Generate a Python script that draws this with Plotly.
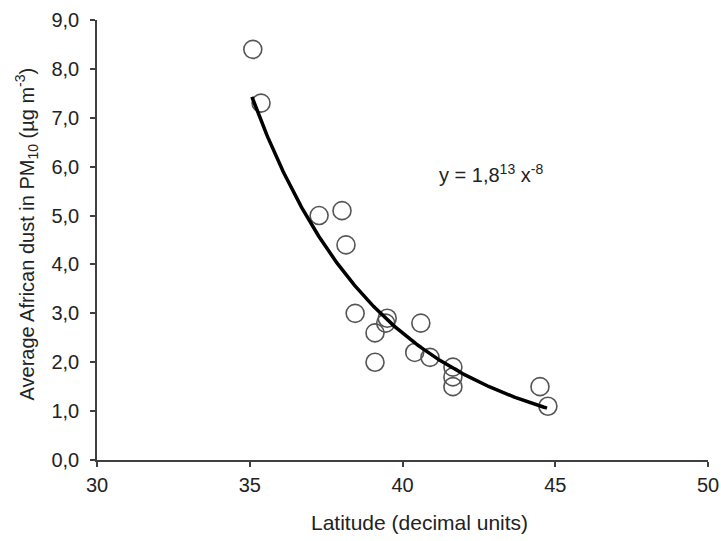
import numpy as np
import plotly.graph_objects as go

# Observed data (latitude, average African dust in PM10)
latitude = [35.1, 35.37, 37.27, 38.02, 38.15, 38.45, 39.1, 39.1, 39.45, 39.5,
            40.6, 40.4, 40.9, 41.65, 41.65, 41.65, 44.5, 44.76]
dust = [8.4, 7.3, 5.0, 5.1, 4.4, 3.0, 2.6, 2.0, 2.8, 2.9,
        2.8, 2.2, 2.1, 1.9, 1.7, 1.5, 1.5, 1.1]

# Power trendline y = a * x^b, as drawn in the chart
trend_a = 1.70e13
trend_b = -8
trend_x_start = 35.07
trend_x_end = 44.73
trend_x = np.linspace(trend_x_start, trend_x_end, 200)
trend_y = trend_a * trend_x ** trend_b

x_ticks = [30, 35, 40, 45, 50]
y_ticks = [0, 1, 2, 3, 4, 5, 6, 7, 8, 9]

font_family = "Liberation Sans, Arial, sans-serif"
text_color = "#222222"
axis_color = "#404040"

fig = go.Figure()
fig.add_trace(go.Scatter(
    x=latitude, y=dust, mode="markers",
    marker=dict(symbol="circle-open", size=18, color="#555555",
                line=dict(width=1.6, color="#555555")),
    showlegend=False, hoverinfo="x+y"))
fig.add_trace(go.Scatter(
    x=trend_x, y=trend_y, mode="lines",
    line=dict(color="black", width=3.5),
    showlegend=False, hoverinfo="skip"))

# Trendline equation
fig.add_annotation(
    x=41.13, y=5.87, xref="x", yref="y",
    text="y = 1,8<sup>13</sup> x<sup>-8</sup>",
    showarrow=False, xanchor="left", yanchor="middle",
    font=dict(family=font_family, size=20, color=text_color))

# Axis titles
fig.add_annotation(
    x=0.5286, y=-0.143, xref="paper", yref="paper",
    text="Latitude (decimal units)", showarrow=False,
    xanchor="center", yanchor="middle",
    font=dict(family=font_family, size=21, color=text_color))
fig.add_annotation(
    x=-0.1146, y=0.5148, xref="paper", yref="paper",
    text="Average African dust in PM<sub>10</sub> (µg m<sup>-3</sup>)",
    showarrow=False, textangle=-90,
    xanchor="center", yanchor="middle",
    font=dict(family=font_family, size=20, color=text_color))

fig.update_layout(
    width=721, height=541,
    margin=dict(l=97, r=13, t=20, b=81),
    paper_bgcolor="white", plot_bgcolor="white",
    separators=",.",
    font=dict(family=font_family, size=20, color=text_color),
    xaxis=dict(
        range=[30, 50], tickvals=x_ticks, ticks="outside", ticklen=5,
        tickwidth=1.5, tickcolor=axis_color, showline=True,
        linecolor=axis_color, linewidth=1.5,
        showgrid=False, zeroline=False, automargin=False,
        ticklabelstandoff=1,
        tickfont=dict(size=20, color=text_color)),
    yaxis=dict(
        range=[0, 9], tickvals=y_ticks, tickformat=".1f", ticks="outside",
        ticklen=5, tickwidth=1.5, tickcolor=axis_color, showline=True,
        linecolor=axis_color, linewidth=1.5, showgrid=False, zeroline=False,
        automargin=False, ticklabelstandoff=7,
        tickfont=dict(size=20, color=text_color)),
)

# Remove the page's default body margin so the figure fills the window exactly
fig.write_html("out.html",
               config={"displayModeBar": False},
               post_script="document.body.style.margin='0';"
                           "document.body.style.overflow='hidden';")
